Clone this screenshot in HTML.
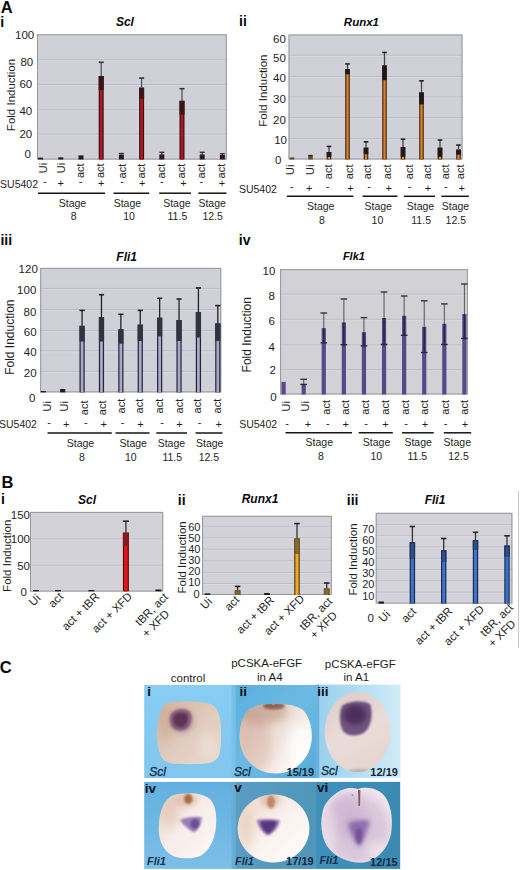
<!DOCTYPE html><html><head><meta charset="utf-8"><style>html,body{margin:0;padding:0;background:#fff;width:520px;height:870px;overflow:hidden;position:relative}</style></head><body><svg width="520" height="870" viewBox="0 0 520 870" style="position:absolute;left:0;top:0" font-family='"Liberation Sans", sans-serif'>
<rect x="0.00" y="0.00" width="520.00" height="870.00" fill="#ffffff"/>
<text x="0.8" y="13.15" font-size="16.5" text-anchor="start" font-weight="bold" font-style="normal" fill="#0a0a0a">A</text>
<text x="0.35" y="26.5" font-size="14" text-anchor="start" font-weight="bold" font-style="normal" fill="#0a0a0a">i</text>
<text x="239.0" y="26.2" font-size="14" text-anchor="start" font-weight="bold" font-style="normal" fill="#0a0a0a">ii</text>
<text x="0.42" y="244.7" font-size="14" text-anchor="start" font-weight="bold" font-style="normal" fill="#0a0a0a">iii</text>
<text x="238.78" y="244.75" font-size="14" text-anchor="start" font-weight="bold" font-style="normal" fill="#0a0a0a">iv</text>
<text x="115.9" y="25.75" font-size="12" text-anchor="start" font-weight="bold" font-style="italic" fill="#0a0a0a">Scl</text>
<rect x="37.00" y="34.30" width="189.80" height="125.30" fill="#cfd0d8"/>
<line x1="37.00" y1="59.80" x2="226.80" y2="59.80" stroke="#b8b9c2" stroke-width="1"/>
<line x1="37.00" y1="60.80" x2="226.80" y2="60.80" stroke="#d9dae1" stroke-width="1"/>
<line x1="37.00" y1="84.50" x2="226.80" y2="84.50" stroke="#b8b9c2" stroke-width="1"/>
<line x1="37.00" y1="85.50" x2="226.80" y2="85.50" stroke="#d9dae1" stroke-width="1"/>
<line x1="37.00" y1="110.00" x2="226.80" y2="110.00" stroke="#b8b9c2" stroke-width="1"/>
<line x1="37.00" y1="111.00" x2="226.80" y2="111.00" stroke="#d9dae1" stroke-width="1"/>
<line x1="37.00" y1="134.20" x2="226.80" y2="134.20" stroke="#b8b9c2" stroke-width="1"/>
<line x1="37.00" y1="135.20" x2="226.80" y2="135.20" stroke="#d9dae1" stroke-width="1"/>
<rect x="37.50" y="34.80" width="188.80" height="124.30" fill="none" stroke="#96969e" stroke-width="1"/>
<text x="34.25" y="39.0" font-size="11.5" text-anchor="end" font-weight="normal" font-style="normal" fill="#1e1e1e">100</text>
<text x="33.2" y="66.25" font-size="11.5" text-anchor="end" font-weight="normal" font-style="normal" fill="#1e1e1e">80</text>
<text x="32.2" y="88.4" font-size="11.5" text-anchor="end" font-weight="normal" font-style="normal" fill="#1e1e1e">60</text>
<text x="32.2" y="114.95" font-size="11.5" text-anchor="end" font-weight="normal" font-style="normal" fill="#1e1e1e">40</text>
<text x="32.2" y="137.7" font-size="11.5" text-anchor="end" font-weight="normal" font-style="normal" fill="#1e1e1e">20</text>
<text x="30.9" y="157.68" font-size="11.5" text-anchor="end" font-weight="normal" font-style="normal" fill="#1e1e1e">0</text>
<text x="0" y="0" transform="translate(14.8,95.0) rotate(-90)" font-size="11.5" text-anchor="middle" font-weight="normal" font-style="normal" fill="#1e1e1e">Fold Induction</text>
<rect x="38.10" y="157.60" width="5.00" height="1.90" fill="#2d1a1c"/>
<rect x="58.30" y="157.30" width="5.00" height="2.20" fill="#2d1a1c"/>
<rect x="78.50" y="155.40" width="5.00" height="4.10" fill="#2d1a1c"/>
<rect x="98.70" y="76.00" width="5.00" height="83.50" fill="#3b1216"/>
<rect x="99.90" y="76.80" width="2.60" height="82.70" fill="#b3171f"/>
<line x1="101.20" y1="62.30" x2="101.20" y2="76.00" stroke="#555" stroke-width="1.3"/>
<line x1="98.70" y1="62.30" x2="103.70" y2="62.30" stroke="#333" stroke-width="1.6"/>
<rect x="98.70" y="76.00" width="5.00" height="14.00" fill="#3a1518"/>
<line x1="118.90" y1="153.50" x2="123.90" y2="153.50" stroke="#333" stroke-width="1.4"/>
<line x1="121.40" y1="153.50" x2="121.40" y2="154.60" stroke="#333" stroke-width="1.2"/>
<rect x="118.90" y="154.60" width="5.00" height="4.90" fill="#2d1a1c"/>
<rect x="139.10" y="87.70" width="5.00" height="71.80" fill="#3b1216"/>
<rect x="140.30" y="88.50" width="2.60" height="71.00" fill="#b3171f"/>
<line x1="141.60" y1="78.10" x2="141.60" y2="87.70" stroke="#555" stroke-width="1.3"/>
<line x1="139.10" y1="78.10" x2="144.10" y2="78.10" stroke="#333" stroke-width="1.6"/>
<rect x="139.10" y="87.70" width="5.00" height="11.10" fill="#3a1518"/>
<line x1="159.30" y1="152.30" x2="164.30" y2="152.30" stroke="#333" stroke-width="1.4"/>
<line x1="161.80" y1="152.30" x2="161.80" y2="154.40" stroke="#333" stroke-width="1.2"/>
<rect x="159.30" y="154.40" width="5.00" height="5.10" fill="#2d1a1c"/>
<rect x="179.50" y="100.80" width="5.00" height="58.70" fill="#3b1216"/>
<rect x="180.70" y="101.60" width="2.60" height="57.90" fill="#b3171f"/>
<line x1="182.00" y1="88.70" x2="182.00" y2="100.80" stroke="#555" stroke-width="1.3"/>
<line x1="179.50" y1="88.70" x2="184.50" y2="88.70" stroke="#333" stroke-width="1.6"/>
<rect x="179.50" y="100.80" width="5.00" height="13.80" fill="#3a1518"/>
<line x1="199.70" y1="152.30" x2="204.70" y2="152.30" stroke="#333" stroke-width="1.4"/>
<line x1="202.20" y1="152.30" x2="202.20" y2="154.40" stroke="#333" stroke-width="1.2"/>
<rect x="199.70" y="154.40" width="5.00" height="5.10" fill="#2d1a1c"/>
<line x1="219.90" y1="153.70" x2="224.90" y2="153.70" stroke="#333" stroke-width="1.4"/>
<line x1="222.40" y1="153.70" x2="222.40" y2="155.00" stroke="#333" stroke-width="1.2"/>
<rect x="219.90" y="155.00" width="5.00" height="4.50" fill="#2d1a1c"/>
<text x="0" y="0" transform="translate(46.9,162.8) rotate(-90)" font-size="11" text-anchor="end" font-weight="normal" font-style="normal" fill="#1e1e1e">Ui</text>
<text x="0" y="0" transform="translate(65.2,162.8) rotate(-90)" font-size="11" text-anchor="end" font-weight="normal" font-style="normal" fill="#1e1e1e">Ui</text>
<text x="0" y="0" transform="translate(84.0,163.4) rotate(-90)" font-size="11" text-anchor="end" font-weight="normal" font-style="normal" fill="#1e1e1e">act</text>
<text x="0" y="0" transform="translate(104.2,163.4) rotate(-90)" font-size="11" text-anchor="end" font-weight="normal" font-style="normal" fill="#1e1e1e">act</text>
<text x="0" y="0" transform="translate(125.8,163.8) rotate(-90)" font-size="11" text-anchor="end" font-weight="normal" font-style="normal" fill="#1e1e1e">act</text>
<text x="0" y="0" transform="translate(145.3,163.8) rotate(-90)" font-size="11" text-anchor="end" font-weight="normal" font-style="normal" fill="#1e1e1e">act</text>
<text x="0" y="0" transform="translate(164.7,163.8) rotate(-90)" font-size="11" text-anchor="end" font-weight="normal" font-style="normal" fill="#1e1e1e">act</text>
<text x="0" y="0" transform="translate(185.0,163.8) rotate(-90)" font-size="11" text-anchor="end" font-weight="normal" font-style="normal" fill="#1e1e1e">act</text>
<text x="0" y="0" transform="translate(204.6,163.8) rotate(-90)" font-size="11" text-anchor="end" font-weight="normal" font-style="normal" fill="#1e1e1e">act</text>
<text x="0" y="0" transform="translate(224.7,163.8) rotate(-90)" font-size="11" text-anchor="end" font-weight="normal" font-style="normal" fill="#1e1e1e">act</text>
<text x="0.1" y="188.2" font-size="10.5" text-anchor="start" font-weight="normal" font-style="normal" fill="#1e1e1e">SU5402</text>
<text x="44.9" y="185.1" font-size="11" text-anchor="middle" font-weight="normal" font-style="normal" fill="#1e1e1e">-</text>
<text x="60.8" y="187.1" font-size="11" text-anchor="middle" font-weight="normal" font-style="normal" fill="#1e1e1e">+</text>
<text x="80.5" y="185.1" font-size="11" text-anchor="middle" font-weight="normal" font-style="normal" fill="#1e1e1e">-</text>
<text x="101.2" y="187.1" font-size="11" text-anchor="middle" font-weight="normal" font-style="normal" fill="#1e1e1e">+</text>
<text x="122.2" y="185.1" font-size="11" text-anchor="middle" font-weight="normal" font-style="normal" fill="#1e1e1e">-</text>
<text x="142.3" y="187.1" font-size="11" text-anchor="middle" font-weight="normal" font-style="normal" fill="#1e1e1e">+</text>
<text x="161.9" y="185.1" font-size="11" text-anchor="middle" font-weight="normal" font-style="normal" fill="#1e1e1e">-</text>
<text x="183.4" y="187.1" font-size="11" text-anchor="middle" font-weight="normal" font-style="normal" fill="#1e1e1e">+</text>
<text x="201.4" y="185.1" font-size="11" text-anchor="middle" font-weight="normal" font-style="normal" fill="#1e1e1e">-</text>
<text x="222.0" y="187.1" font-size="11" text-anchor="middle" font-weight="normal" font-style="normal" fill="#1e1e1e">+</text>
<line x1="38.00" y1="193.20" x2="105.00" y2="193.20" stroke="#151515" stroke-width="1.5"/>
<line x1="113.50" y1="193.20" x2="149.30" y2="193.20" stroke="#151515" stroke-width="1.5"/>
<line x1="159.20" y1="193.20" x2="191.00" y2="193.20" stroke="#151515" stroke-width="1.5"/>
<line x1="198.30" y1="193.20" x2="226.50" y2="193.20" stroke="#151515" stroke-width="1.5"/>
<text x="72.5" y="207.2" font-size="10.5" text-anchor="middle" font-weight="normal" font-style="normal" fill="#1e1e1e">Stage</text>
<text x="127.4" y="207.2" font-size="10.5" text-anchor="middle" font-weight="normal" font-style="normal" fill="#1e1e1e">Stage</text>
<text x="176.9" y="207.2" font-size="10.5" text-anchor="middle" font-weight="normal" font-style="normal" fill="#1e1e1e">Stage</text>
<text x="212.15" y="207.2" font-size="10.5" text-anchor="middle" font-weight="normal" font-style="normal" fill="#1e1e1e">Stage</text>
<text x="73.65" y="220.2" font-size="10.5" text-anchor="middle" font-weight="normal" font-style="normal" fill="#1e1e1e">8</text>
<text x="129.0" y="220.1" font-size="10.5" text-anchor="middle" font-weight="normal" font-style="normal" fill="#1e1e1e">10</text>
<text x="177.4" y="220.2" font-size="10.5" text-anchor="middle" font-weight="normal" font-style="normal" fill="#1e1e1e">11.5</text>
<text x="212.6" y="220.2" font-size="10.5" text-anchor="middle" font-weight="normal" font-style="normal" fill="#1e1e1e">12.5</text>
<text x="343.85" y="25.8" font-size="11.5" text-anchor="start" font-weight="bold" font-style="italic" fill="#0a0a0a">Runx1</text>
<rect x="288.50" y="34.50" width="174.00" height="125.00" fill="#cfd0d8"/>
<line x1="288.50" y1="55.30" x2="462.50" y2="55.30" stroke="#b8b9c2" stroke-width="1"/>
<line x1="288.50" y1="56.30" x2="462.50" y2="56.30" stroke="#d9dae1" stroke-width="1"/>
<line x1="288.50" y1="76.40" x2="462.50" y2="76.40" stroke="#b8b9c2" stroke-width="1"/>
<line x1="288.50" y1="77.40" x2="462.50" y2="77.40" stroke="#d9dae1" stroke-width="1"/>
<line x1="288.50" y1="97.10" x2="462.50" y2="97.10" stroke="#b8b9c2" stroke-width="1"/>
<line x1="288.50" y1="98.10" x2="462.50" y2="98.10" stroke="#d9dae1" stroke-width="1"/>
<line x1="288.50" y1="117.80" x2="462.50" y2="117.80" stroke="#b8b9c2" stroke-width="1"/>
<line x1="288.50" y1="118.80" x2="462.50" y2="118.80" stroke="#d9dae1" stroke-width="1"/>
<line x1="288.50" y1="138.80" x2="462.50" y2="138.80" stroke="#b8b9c2" stroke-width="1"/>
<line x1="288.50" y1="139.80" x2="462.50" y2="139.80" stroke="#d9dae1" stroke-width="1"/>
<rect x="289.00" y="35.00" width="173.00" height="124.00" fill="none" stroke="#96969e" stroke-width="1"/>
<text x="285.9" y="42.8" font-size="11.5" text-anchor="end" font-weight="normal" font-style="normal" fill="#1e1e1e">60</text>
<text x="285.9" y="61.75" font-size="11.5" text-anchor="end" font-weight="normal" font-style="normal" fill="#1e1e1e">50</text>
<text x="285.9" y="81.95" font-size="11.5" text-anchor="end" font-weight="normal" font-style="normal" fill="#1e1e1e">40</text>
<text x="285.9" y="103.45" font-size="11.5" text-anchor="end" font-weight="normal" font-style="normal" fill="#1e1e1e">30</text>
<text x="285.9" y="123.65" font-size="11.5" text-anchor="end" font-weight="normal" font-style="normal" fill="#1e1e1e">20</text>
<text x="287.0" y="144.35" font-size="11.5" text-anchor="end" font-weight="normal" font-style="normal" fill="#1e1e1e">10</text>
<text x="281.5" y="163.9" font-size="11.5" text-anchor="end" font-weight="normal" font-style="normal" fill="#1e1e1e">0</text>
<text x="0" y="0" transform="translate(266.6,90.65) rotate(-90)" font-size="11.5" text-anchor="middle" font-weight="normal" font-style="normal" fill="#1e1e1e">Fold Induction</text>
<rect x="289.70" y="157.40" width="4.60" height="2.10" fill="#6a4a2a"/>
<line x1="308.20" y1="155.60" x2="312.80" y2="155.60" stroke="#222" stroke-width="1.4"/>
<line x1="310.50" y1="155.60" x2="310.50" y2="156.00" stroke="#222" stroke-width="1.2"/>
<rect x="308.20" y="156.00" width="4.60" height="3.50" fill="#6a4a2a"/>
<rect x="326.70" y="152.00" width="4.60" height="7.50" fill="#4a2a10"/>
<rect x="327.90" y="152.80" width="2.20" height="6.70" fill="#d9822b"/>
<line x1="329.00" y1="146.40" x2="329.00" y2="152.00" stroke="#444" stroke-width="1.3"/>
<line x1="326.70" y1="146.40" x2="331.30" y2="146.40" stroke="#222" stroke-width="1.6"/>
<rect x="326.70" y="152.00" width="4.60" height="5.00" fill="#1e1a1a"/>
<rect x="345.20" y="69.10" width="4.60" height="90.40" fill="#4a2a10"/>
<rect x="346.40" y="69.90" width="2.20" height="89.60" fill="#d9822b"/>
<line x1="347.50" y1="63.90" x2="347.50" y2="69.10" stroke="#444" stroke-width="1.3"/>
<line x1="345.20" y1="63.90" x2="349.80" y2="63.90" stroke="#222" stroke-width="1.6"/>
<rect x="345.20" y="69.10" width="4.60" height="5.20" fill="#1e1a1a"/>
<rect x="363.70" y="147.70" width="4.60" height="11.80" fill="#4a2a10"/>
<rect x="364.90" y="148.50" width="2.20" height="11.00" fill="#d9822b"/>
<line x1="366.00" y1="141.80" x2="366.00" y2="147.70" stroke="#444" stroke-width="1.3"/>
<line x1="363.70" y1="141.80" x2="368.30" y2="141.80" stroke="#222" stroke-width="1.6"/>
<rect x="363.70" y="147.70" width="4.60" height="6.50" fill="#1e1a1a"/>
<rect x="382.20" y="65.40" width="4.60" height="94.10" fill="#4a2a10"/>
<rect x="383.40" y="66.20" width="2.20" height="93.30" fill="#d9822b"/>
<line x1="384.50" y1="52.50" x2="384.50" y2="65.40" stroke="#444" stroke-width="1.3"/>
<line x1="382.20" y1="52.50" x2="386.80" y2="52.50" stroke="#222" stroke-width="1.6"/>
<rect x="382.20" y="65.40" width="4.60" height="14.80" fill="#1e1a1a"/>
<rect x="400.70" y="147.00" width="4.60" height="12.50" fill="#4a2a10"/>
<rect x="401.90" y="147.80" width="2.20" height="11.70" fill="#d9822b"/>
<line x1="403.00" y1="139.20" x2="403.00" y2="147.00" stroke="#444" stroke-width="1.3"/>
<line x1="400.70" y1="139.20" x2="405.30" y2="139.20" stroke="#222" stroke-width="1.6"/>
<rect x="400.70" y="147.00" width="4.60" height="9.80" fill="#1e1a1a"/>
<rect x="419.20" y="92.40" width="4.60" height="67.10" fill="#4a2a10"/>
<rect x="420.40" y="93.20" width="2.20" height="66.30" fill="#d9822b"/>
<line x1="421.50" y1="80.80" x2="421.50" y2="92.40" stroke="#444" stroke-width="1.3"/>
<line x1="419.20" y1="80.80" x2="423.80" y2="80.80" stroke="#222" stroke-width="1.6"/>
<rect x="419.20" y="92.40" width="4.60" height="12.00" fill="#1e1a1a"/>
<rect x="437.70" y="147.70" width="4.60" height="11.80" fill="#4a2a10"/>
<rect x="438.90" y="148.50" width="2.20" height="11.00" fill="#d9822b"/>
<line x1="440.00" y1="140.00" x2="440.00" y2="147.70" stroke="#444" stroke-width="1.3"/>
<line x1="437.70" y1="140.00" x2="442.30" y2="140.00" stroke="#222" stroke-width="1.6"/>
<rect x="437.70" y="147.70" width="4.60" height="9.10" fill="#1e1a1a"/>
<rect x="456.20" y="149.60" width="4.60" height="9.90" fill="#4a2a10"/>
<rect x="457.40" y="150.40" width="2.20" height="9.10" fill="#d9822b"/>
<line x1="458.50" y1="145.10" x2="458.50" y2="149.60" stroke="#444" stroke-width="1.3"/>
<line x1="456.20" y1="145.10" x2="460.80" y2="145.10" stroke="#222" stroke-width="1.6"/>
<rect x="456.20" y="149.60" width="4.60" height="5.10" fill="#1e1a1a"/>
<text x="0" y="0" transform="translate(294.3,164.5) rotate(-90)" font-size="11" text-anchor="end" font-weight="normal" font-style="normal" fill="#1e1e1e">Ui</text>
<text x="0" y="0" transform="translate(313.8,164.5) rotate(-90)" font-size="11" text-anchor="end" font-weight="normal" font-style="normal" fill="#1e1e1e">Ui</text>
<text x="0" y="0" transform="translate(331.8,164.5) rotate(-90)" font-size="11" text-anchor="end" font-weight="normal" font-style="normal" fill="#1e1e1e">act</text>
<text x="0" y="0" transform="translate(352.5,164.5) rotate(-90)" font-size="11" text-anchor="end" font-weight="normal" font-style="normal" fill="#1e1e1e">act</text>
<text x="0" y="0" transform="translate(371.3,164.5) rotate(-90)" font-size="11" text-anchor="end" font-weight="normal" font-style="normal" fill="#1e1e1e">act</text>
<text x="0" y="0" transform="translate(391.3,164.5) rotate(-90)" font-size="11" text-anchor="end" font-weight="normal" font-style="normal" fill="#1e1e1e">act</text>
<text x="0" y="0" transform="translate(412.5,164.5) rotate(-90)" font-size="11" text-anchor="end" font-weight="normal" font-style="normal" fill="#1e1e1e">act</text>
<text x="0" y="0" transform="translate(430.5,164.5) rotate(-90)" font-size="11" text-anchor="end" font-weight="normal" font-style="normal" fill="#1e1e1e">act</text>
<text x="0" y="0" transform="translate(448.8,164.5) rotate(-90)" font-size="11" text-anchor="end" font-weight="normal" font-style="normal" fill="#1e1e1e">act</text>
<text x="0" y="0" transform="translate(463.8,164.5) rotate(-90)" font-size="11" text-anchor="end" font-weight="normal" font-style="normal" fill="#1e1e1e">act</text>
<text x="238.9" y="192.5" font-size="10.5" text-anchor="start" font-weight="normal" font-style="normal" fill="#1e1e1e">SU5402</text>
<text x="291.5" y="190.0" font-size="11" text-anchor="middle" font-weight="normal" font-style="normal" fill="#1e1e1e">-</text>
<text x="309.3" y="191.8" font-size="11" text-anchor="middle" font-weight="normal" font-style="normal" fill="#1e1e1e">+</text>
<text x="327.5" y="190.0" font-size="11" text-anchor="middle" font-weight="normal" font-style="normal" fill="#1e1e1e">-</text>
<text x="350.5" y="191.8" font-size="11" text-anchor="middle" font-weight="normal" font-style="normal" fill="#1e1e1e">+</text>
<text x="369.0" y="190.0" font-size="11" text-anchor="middle" font-weight="normal" font-style="normal" fill="#1e1e1e">-</text>
<text x="388.8" y="191.8" font-size="11" text-anchor="middle" font-weight="normal" font-style="normal" fill="#1e1e1e">+</text>
<text x="409.5" y="190.0" font-size="11" text-anchor="middle" font-weight="normal" font-style="normal" fill="#1e1e1e">-</text>
<text x="428.0" y="191.8" font-size="11" text-anchor="middle" font-weight="normal" font-style="normal" fill="#1e1e1e">+</text>
<text x="445.8" y="190.0" font-size="11" text-anchor="middle" font-weight="normal" font-style="normal" fill="#1e1e1e">-</text>
<text x="461.8" y="191.8" font-size="11" text-anchor="middle" font-weight="normal" font-style="normal" fill="#1e1e1e">+</text>
<line x1="286.80" y1="196.30" x2="353.30" y2="196.30" stroke="#151515" stroke-width="1.5"/>
<line x1="362.50" y1="196.30" x2="397.50" y2="196.30" stroke="#151515" stroke-width="1.5"/>
<line x1="403.80" y1="196.30" x2="435.00" y2="196.30" stroke="#151515" stroke-width="1.5"/>
<line x1="441.30" y1="196.30" x2="468.80" y2="196.30" stroke="#151515" stroke-width="1.5"/>
<text x="320.75" y="210.25" font-size="10.5" text-anchor="middle" font-weight="normal" font-style="normal" fill="#1e1e1e">Stage</text>
<text x="378.25" y="210.25" font-size="10.5" text-anchor="middle" font-weight="normal" font-style="normal" fill="#1e1e1e">Stage</text>
<text x="420.5" y="210.25" font-size="10.5" text-anchor="middle" font-weight="normal" font-style="normal" fill="#1e1e1e">Stage</text>
<text x="455.5" y="210.25" font-size="10.5" text-anchor="middle" font-weight="normal" font-style="normal" fill="#1e1e1e">Stage</text>
<text x="321.9" y="223.9" font-size="10.5" text-anchor="middle" font-weight="normal" font-style="normal" fill="#1e1e1e">8</text>
<text x="377.4" y="224.05" font-size="10.5" text-anchor="middle" font-weight="normal" font-style="normal" fill="#1e1e1e">10</text>
<text x="421.15" y="224.05" font-size="10.5" text-anchor="middle" font-weight="normal" font-style="normal" fill="#1e1e1e">11.5</text>
<text x="455.8" y="224.05" font-size="10.5" text-anchor="middle" font-weight="normal" font-style="normal" fill="#1e1e1e">12.5</text>
<text x="116.3" y="260.8" font-size="12" text-anchor="start" font-weight="bold" font-style="italic" fill="#0a0a0a">Fli1</text>
<rect x="40.20" y="267.90" width="181.10" height="124.50" fill="#cfd0d8"/>
<line x1="40.20" y1="288.40" x2="221.30" y2="288.40" stroke="#b8b9c2" stroke-width="1"/>
<line x1="40.20" y1="289.40" x2="221.30" y2="289.40" stroke="#d9dae1" stroke-width="1"/>
<line x1="40.20" y1="309.60" x2="221.30" y2="309.60" stroke="#b8b9c2" stroke-width="1"/>
<line x1="40.20" y1="310.60" x2="221.30" y2="310.60" stroke="#d9dae1" stroke-width="1"/>
<line x1="40.20" y1="330.60" x2="221.30" y2="330.60" stroke="#b8b9c2" stroke-width="1"/>
<line x1="40.20" y1="331.60" x2="221.30" y2="331.60" stroke="#d9dae1" stroke-width="1"/>
<line x1="40.20" y1="350.90" x2="221.30" y2="350.90" stroke="#b8b9c2" stroke-width="1"/>
<line x1="40.20" y1="351.90" x2="221.30" y2="351.90" stroke="#d9dae1" stroke-width="1"/>
<line x1="40.20" y1="371.40" x2="221.30" y2="371.40" stroke="#b8b9c2" stroke-width="1"/>
<line x1="40.20" y1="372.40" x2="221.30" y2="372.40" stroke="#d9dae1" stroke-width="1"/>
<rect x="40.70" y="268.40" width="180.10" height="123.50" fill="none" stroke="#96969e" stroke-width="1"/>
<text x="37.8" y="272.55" font-size="11.5" text-anchor="end" font-weight="normal" font-style="normal" fill="#1e1e1e">120</text>
<text x="36.3" y="293.55" font-size="11.5" text-anchor="end" font-weight="normal" font-style="normal" fill="#1e1e1e">100</text>
<text x="36.3" y="315.5" font-size="11.5" text-anchor="end" font-weight="normal" font-style="normal" fill="#1e1e1e">80</text>
<text x="36.6" y="335.75" font-size="11.5" text-anchor="end" font-weight="normal" font-style="normal" fill="#1e1e1e">60</text>
<text x="36.6" y="356.0" font-size="11.5" text-anchor="end" font-weight="normal" font-style="normal" fill="#1e1e1e">40</text>
<text x="36.6" y="377.4" font-size="11.5" text-anchor="end" font-weight="normal" font-style="normal" fill="#1e1e1e">20</text>
<text x="35.4" y="401.65" font-size="11.5" text-anchor="end" font-weight="normal" font-style="normal" fill="#1e1e1e">0</text>
<text x="0" y="0" transform="translate(14.15,337.15) rotate(-90)" font-size="12" text-anchor="middle" font-weight="normal" font-style="normal" fill="#1e1e1e">Fold Induction</text>
<rect x="40.70" y="391.00" width="5.20" height="1.40" fill="#1e1e2a"/>
<rect x="60.09" y="389.00" width="5.20" height="3.40" fill="#1e1e2a"/>
<rect x="79.48" y="325.80" width="5.20" height="66.60" fill="#23233d"/>
<rect x="80.68" y="326.60" width="2.80" height="65.80" fill="#a9a9c6"/>
<line x1="82.08" y1="310.40" x2="82.08" y2="325.80" stroke="#222" stroke-width="1.3"/>
<line x1="79.48" y1="310.40" x2="84.68" y2="310.40" stroke="#222" stroke-width="1.6"/>
<rect x="79.48" y="325.80" width="5.20" height="15.70" fill="#33333f"/>
<rect x="98.87" y="317.00" width="5.20" height="75.40" fill="#23233d"/>
<rect x="100.07" y="317.80" width="2.80" height="74.60" fill="#a9a9c6"/>
<line x1="101.47" y1="294.70" x2="101.47" y2="317.00" stroke="#222" stroke-width="1.3"/>
<line x1="98.87" y1="294.70" x2="104.07" y2="294.70" stroke="#222" stroke-width="1.6"/>
<rect x="98.87" y="317.00" width="5.20" height="24.50" fill="#33333f"/>
<rect x="118.26" y="329.30" width="5.20" height="63.10" fill="#23233d"/>
<rect x="119.46" y="330.10" width="2.80" height="62.30" fill="#a9a9c6"/>
<line x1="120.86" y1="314.30" x2="120.86" y2="329.30" stroke="#222" stroke-width="1.3"/>
<line x1="118.26" y1="314.30" x2="123.46" y2="314.30" stroke="#222" stroke-width="1.6"/>
<rect x="118.26" y="329.30" width="5.20" height="14.40" fill="#33333f"/>
<rect x="137.65" y="324.60" width="5.20" height="67.80" fill="#23233d"/>
<rect x="138.85" y="325.40" width="2.80" height="67.00" fill="#a9a9c6"/>
<line x1="140.25" y1="310.40" x2="140.25" y2="324.60" stroke="#222" stroke-width="1.3"/>
<line x1="137.65" y1="310.40" x2="142.85" y2="310.40" stroke="#222" stroke-width="1.6"/>
<rect x="137.65" y="324.60" width="5.20" height="16.40" fill="#33333f"/>
<rect x="157.04" y="317.70" width="5.20" height="74.70" fill="#23233d"/>
<rect x="158.24" y="318.50" width="2.80" height="73.90" fill="#a9a9c6"/>
<line x1="159.64" y1="298.30" x2="159.64" y2="317.70" stroke="#222" stroke-width="1.3"/>
<line x1="157.04" y1="298.30" x2="162.24" y2="298.30" stroke="#222" stroke-width="1.6"/>
<rect x="157.04" y="317.70" width="5.20" height="18.60" fill="#33333f"/>
<rect x="176.43" y="320.00" width="5.20" height="72.40" fill="#23233d"/>
<rect x="177.63" y="320.80" width="2.80" height="71.60" fill="#a9a9c6"/>
<line x1="179.03" y1="299.00" x2="179.03" y2="320.00" stroke="#222" stroke-width="1.3"/>
<line x1="176.43" y1="299.00" x2="181.63" y2="299.00" stroke="#222" stroke-width="1.6"/>
<rect x="176.43" y="320.00" width="5.20" height="21.00" fill="#33333f"/>
<rect x="195.82" y="312.00" width="5.20" height="80.40" fill="#23233d"/>
<rect x="197.02" y="312.80" width="2.80" height="79.60" fill="#a9a9c6"/>
<line x1="198.42" y1="287.90" x2="198.42" y2="312.00" stroke="#222" stroke-width="1.3"/>
<line x1="195.82" y1="287.90" x2="201.02" y2="287.90" stroke="#222" stroke-width="1.6"/>
<rect x="195.82" y="312.00" width="5.20" height="25.50" fill="#33333f"/>
<rect x="215.21" y="323.40" width="5.20" height="69.00" fill="#23233d"/>
<rect x="216.41" y="324.20" width="2.80" height="68.20" fill="#a9a9c6"/>
<line x1="217.81" y1="305.60" x2="217.81" y2="323.40" stroke="#222" stroke-width="1.3"/>
<line x1="215.21" y1="305.60" x2="220.41" y2="305.60" stroke="#222" stroke-width="1.6"/>
<rect x="215.21" y="323.40" width="5.20" height="17.60" fill="#33333f"/>
<text x="0" y="0" transform="translate(51.3,401.0) rotate(-90)" font-size="11" text-anchor="end" font-weight="normal" font-style="normal" fill="#1e1e1e">Ui</text>
<text x="0" y="0" transform="translate(67.5,401.0) rotate(-90)" font-size="11" text-anchor="end" font-weight="normal" font-style="normal" fill="#1e1e1e">Ui</text>
<text x="0" y="0" transform="translate(87.5,400.5) rotate(-90)" font-size="11" text-anchor="end" font-weight="normal" font-style="normal" fill="#1e1e1e">act</text>
<text x="0" y="0" transform="translate(106.0,400.5) rotate(-90)" font-size="11" text-anchor="end" font-weight="normal" font-style="normal" fill="#1e1e1e">act</text>
<text x="0" y="0" transform="translate(124.5,398.8) rotate(-90)" font-size="11" text-anchor="end" font-weight="normal" font-style="normal" fill="#1e1e1e">act</text>
<text x="0" y="0" transform="translate(143.0,398.8) rotate(-90)" font-size="11" text-anchor="end" font-weight="normal" font-style="normal" fill="#1e1e1e">act</text>
<text x="0" y="0" transform="translate(163.0,398.8) rotate(-90)" font-size="11" text-anchor="end" font-weight="normal" font-style="normal" fill="#1e1e1e">act</text>
<text x="0" y="0" transform="translate(182.5,398.8) rotate(-90)" font-size="11" text-anchor="end" font-weight="normal" font-style="normal" fill="#1e1e1e">act</text>
<text x="0" y="0" transform="translate(201.3,398.8) rotate(-90)" font-size="11" text-anchor="end" font-weight="normal" font-style="normal" fill="#1e1e1e">act</text>
<text x="0" y="0" transform="translate(221.3,398.8) rotate(-90)" font-size="11" text-anchor="end" font-weight="normal" font-style="normal" fill="#1e1e1e">act</text>
<text x="-1.0" y="428.0" font-size="10.5" text-anchor="start" font-weight="normal" font-style="normal" fill="#1e1e1e">SU5402</text>
<text x="49.0" y="426.3" font-size="11" text-anchor="middle" font-weight="normal" font-style="normal" fill="#1e1e1e">-</text>
<text x="66.3" y="428.0" font-size="11" text-anchor="middle" font-weight="normal" font-style="normal" fill="#1e1e1e">+</text>
<text x="85.8" y="426.3" font-size="11" text-anchor="middle" font-weight="normal" font-style="normal" fill="#1e1e1e">-</text>
<text x="103.8" y="428.0" font-size="11" text-anchor="middle" font-weight="normal" font-style="normal" fill="#1e1e1e">+</text>
<text x="122.5" y="426.3" font-size="11" text-anchor="middle" font-weight="normal" font-style="normal" fill="#1e1e1e">-</text>
<text x="140.5" y="428.0" font-size="11" text-anchor="middle" font-weight="normal" font-style="normal" fill="#1e1e1e">+</text>
<text x="162.0" y="426.3" font-size="11" text-anchor="middle" font-weight="normal" font-style="normal" fill="#1e1e1e">-</text>
<text x="179.5" y="428.0" font-size="11" text-anchor="middle" font-weight="normal" font-style="normal" fill="#1e1e1e">+</text>
<text x="199.5" y="426.3" font-size="11" text-anchor="middle" font-weight="normal" font-style="normal" fill="#1e1e1e">-</text>
<text x="218.8" y="428.0" font-size="11" text-anchor="middle" font-weight="normal" font-style="normal" fill="#1e1e1e">+</text>
<line x1="47.50" y1="433.00" x2="111.80" y2="433.00" stroke="#151515" stroke-width="1.5"/>
<line x1="115.50" y1="433.00" x2="149.50" y2="433.00" stroke="#151515" stroke-width="1.5"/>
<line x1="156.30" y1="433.00" x2="187.00" y2="433.00" stroke="#151515" stroke-width="1.5"/>
<line x1="195.50" y1="433.00" x2="222.50" y2="433.00" stroke="#151515" stroke-width="1.5"/>
<text x="80.5" y="446.9" font-size="10.5" text-anchor="middle" font-weight="normal" font-style="normal" fill="#1e1e1e">Stage</text>
<text x="133.25" y="447.15" font-size="10.5" text-anchor="middle" font-weight="normal" font-style="normal" fill="#1e1e1e">Stage</text>
<text x="171.4" y="447.15" font-size="10.5" text-anchor="middle" font-weight="normal" font-style="normal" fill="#1e1e1e">Stage</text>
<text x="209.75" y="447.15" font-size="10.5" text-anchor="middle" font-weight="normal" font-style="normal" fill="#1e1e1e">Stage</text>
<text x="81.9" y="460.5" font-size="10.5" text-anchor="middle" font-weight="normal" font-style="normal" fill="#1e1e1e">8</text>
<text x="130.75" y="461.15" font-size="10.5" text-anchor="middle" font-weight="normal" font-style="normal" fill="#1e1e1e">10</text>
<text x="172.25" y="461.15" font-size="10.5" text-anchor="middle" font-weight="normal" font-style="normal" fill="#1e1e1e">11.5</text>
<text x="208.9" y="461.15" font-size="10.5" text-anchor="middle" font-weight="normal" font-style="normal" fill="#1e1e1e">12.5</text>
<text x="342.9" y="260.0" font-size="11" text-anchor="start" font-weight="bold" font-style="italic" fill="#0a0a0a">Flk1</text>
<rect x="280.10" y="269.10" width="187.80" height="125.40" fill="#d1d1d6"/>
<line x1="280.10" y1="294.10" x2="467.90" y2="294.10" stroke="#b8b8be" stroke-width="1"/>
<line x1="280.10" y1="295.10" x2="467.90" y2="295.10" stroke="#d9dae1" stroke-width="1"/>
<line x1="280.10" y1="319.30" x2="467.90" y2="319.30" stroke="#b8b8be" stroke-width="1"/>
<line x1="280.10" y1="320.30" x2="467.90" y2="320.30" stroke="#d9dae1" stroke-width="1"/>
<line x1="280.10" y1="345.00" x2="467.90" y2="345.00" stroke="#b8b8be" stroke-width="1"/>
<line x1="280.10" y1="346.00" x2="467.90" y2="346.00" stroke="#d9dae1" stroke-width="1"/>
<line x1="280.10" y1="369.80" x2="467.90" y2="369.80" stroke="#b8b8be" stroke-width="1"/>
<line x1="280.10" y1="370.80" x2="467.90" y2="370.80" stroke="#d9dae1" stroke-width="1"/>
<rect x="280.60" y="269.60" width="186.80" height="124.40" fill="none" stroke="#96969e" stroke-width="1"/>
<text x="275.3" y="274.65" font-size="11.5" text-anchor="end" font-weight="normal" font-style="normal" fill="#1e1e1e">10</text>
<text x="275.0" y="300.4" font-size="11.5" text-anchor="end" font-weight="normal" font-style="normal" fill="#1e1e1e">8</text>
<text x="275.0" y="325.3" font-size="11.5" text-anchor="end" font-weight="normal" font-style="normal" fill="#1e1e1e">6</text>
<text x="275.0" y="350.8" font-size="11.5" text-anchor="end" font-weight="normal" font-style="normal" fill="#1e1e1e">4</text>
<text x="276.0" y="373.9" font-size="11.5" text-anchor="end" font-weight="normal" font-style="normal" fill="#1e1e1e">2</text>
<text x="276.6" y="400.75" font-size="11.5" text-anchor="end" font-weight="normal" font-style="normal" fill="#1e1e1e">0</text>
<text x="0" y="0" transform="translate(250.75,334.75) rotate(-90)" font-size="12" text-anchor="middle" font-weight="normal" font-style="normal" fill="#1e1e1e">Fold Induction</text>
<rect x="281.50" y="381.90" width="4.20" height="12.60" fill="#56498a"/>
<rect x="301.59" y="384.40" width="4.20" height="10.10" fill="#56498a"/>
<line x1="303.69" y1="379.30" x2="303.69" y2="384.40" stroke="#555" stroke-width="1.0"/>
<line x1="300.39" y1="379.30" x2="306.99" y2="379.30" stroke="#333" stroke-width="1.4"/>
<line x1="303.69" y1="384.40" x2="303.69" y2="384.40" stroke="#2a2440" stroke-width="1.6"/>
<line x1="300.39" y1="384.40" x2="306.99" y2="384.40" stroke="#2a2440" stroke-width="1.4"/>
<rect x="321.68" y="328.10" width="4.20" height="66.40" fill="#56498a"/>
<line x1="323.78" y1="313.00" x2="323.78" y2="328.10" stroke="#555" stroke-width="1.0"/>
<line x1="320.48" y1="313.00" x2="327.08" y2="313.00" stroke="#333" stroke-width="1.4"/>
<line x1="323.78" y1="328.10" x2="323.78" y2="342.80" stroke="#2a2440" stroke-width="1.6"/>
<line x1="320.48" y1="342.80" x2="327.08" y2="342.80" stroke="#2a2440" stroke-width="1.4"/>
<rect x="341.77" y="322.40" width="4.20" height="72.10" fill="#56498a"/>
<line x1="343.87" y1="299.00" x2="343.87" y2="322.40" stroke="#555" stroke-width="1.0"/>
<line x1="340.57" y1="299.00" x2="347.17" y2="299.00" stroke="#333" stroke-width="1.4"/>
<line x1="343.87" y1="322.40" x2="343.87" y2="344.70" stroke="#2a2440" stroke-width="1.6"/>
<line x1="340.57" y1="344.70" x2="347.17" y2="344.70" stroke="#2a2440" stroke-width="1.4"/>
<rect x="361.86" y="332.20" width="4.20" height="62.30" fill="#56498a"/>
<line x1="363.96" y1="317.60" x2="363.96" y2="332.20" stroke="#555" stroke-width="1.0"/>
<line x1="360.66" y1="317.60" x2="367.26" y2="317.60" stroke="#333" stroke-width="1.4"/>
<line x1="363.96" y1="332.20" x2="363.96" y2="345.90" stroke="#2a2440" stroke-width="1.6"/>
<line x1="360.66" y1="345.90" x2="367.26" y2="345.90" stroke="#2a2440" stroke-width="1.4"/>
<rect x="381.95" y="318.00" width="4.20" height="76.50" fill="#56498a"/>
<line x1="384.05" y1="292.00" x2="384.05" y2="318.00" stroke="#555" stroke-width="1.0"/>
<line x1="380.75" y1="292.00" x2="387.35" y2="292.00" stroke="#333" stroke-width="1.4"/>
<line x1="384.05" y1="318.00" x2="384.05" y2="344.50" stroke="#2a2440" stroke-width="1.6"/>
<line x1="380.75" y1="344.50" x2="387.35" y2="344.50" stroke="#2a2440" stroke-width="1.4"/>
<rect x="402.04" y="315.80" width="4.20" height="78.70" fill="#56498a"/>
<line x1="404.14" y1="296.00" x2="404.14" y2="315.80" stroke="#555" stroke-width="1.0"/>
<line x1="400.84" y1="296.00" x2="407.44" y2="296.00" stroke="#333" stroke-width="1.4"/>
<line x1="404.14" y1="315.80" x2="404.14" y2="335.30" stroke="#2a2440" stroke-width="1.6"/>
<line x1="400.84" y1="335.30" x2="407.44" y2="335.30" stroke="#2a2440" stroke-width="1.4"/>
<rect x="422.13" y="326.90" width="4.20" height="67.60" fill="#56498a"/>
<line x1="424.23" y1="300.80" x2="424.23" y2="326.90" stroke="#555" stroke-width="1.0"/>
<line x1="420.93" y1="300.80" x2="427.53" y2="300.80" stroke="#333" stroke-width="1.4"/>
<line x1="424.23" y1="326.90" x2="424.23" y2="352.50" stroke="#2a2440" stroke-width="1.6"/>
<line x1="420.93" y1="352.50" x2="427.53" y2="352.50" stroke="#2a2440" stroke-width="1.4"/>
<rect x="442.22" y="323.80" width="4.20" height="70.70" fill="#56498a"/>
<line x1="444.32" y1="303.90" x2="444.32" y2="323.80" stroke="#555" stroke-width="1.0"/>
<line x1="441.02" y1="303.90" x2="447.62" y2="303.90" stroke="#333" stroke-width="1.4"/>
<line x1="444.32" y1="323.80" x2="444.32" y2="344.50" stroke="#2a2440" stroke-width="1.6"/>
<line x1="441.02" y1="344.50" x2="447.62" y2="344.50" stroke="#2a2440" stroke-width="1.4"/>
<rect x="462.31" y="314.00" width="4.20" height="80.50" fill="#56498a"/>
<line x1="464.41" y1="284.00" x2="464.41" y2="314.00" stroke="#555" stroke-width="1.0"/>
<line x1="461.11" y1="284.00" x2="467.71" y2="284.00" stroke="#333" stroke-width="1.4"/>
<line x1="464.41" y1="314.00" x2="464.41" y2="338.40" stroke="#2a2440" stroke-width="1.6"/>
<line x1="461.11" y1="338.40" x2="467.71" y2="338.40" stroke="#2a2440" stroke-width="1.4"/>
<text x="0" y="0" transform="translate(290.0,401.0) rotate(-90)" font-size="11" text-anchor="end" font-weight="normal" font-style="normal" fill="#1e1e1e">Ui</text>
<text x="0" y="0" transform="translate(308.8,401.0) rotate(-90)" font-size="11" text-anchor="end" font-weight="normal" font-style="normal" fill="#1e1e1e">Ui</text>
<text x="0" y="0" transform="translate(330.0,400.0) rotate(-90)" font-size="11" text-anchor="end" font-weight="normal" font-style="normal" fill="#1e1e1e">act</text>
<text x="0" y="0" transform="translate(348.8,400.0) rotate(-90)" font-size="11" text-anchor="end" font-weight="normal" font-style="normal" fill="#1e1e1e">act</text>
<text x="0" y="0" transform="translate(369.4,400.0) rotate(-90)" font-size="11" text-anchor="end" font-weight="normal" font-style="normal" fill="#1e1e1e">act</text>
<text x="0" y="0" transform="translate(389.0,400.0) rotate(-90)" font-size="11" text-anchor="end" font-weight="normal" font-style="normal" fill="#1e1e1e">act</text>
<text x="0" y="0" transform="translate(409.2,400.0) rotate(-90)" font-size="11" text-anchor="end" font-weight="normal" font-style="normal" fill="#1e1e1e">act</text>
<text x="0" y="0" transform="translate(428.0,400.0) rotate(-90)" font-size="11" text-anchor="end" font-weight="normal" font-style="normal" fill="#1e1e1e">act</text>
<text x="0" y="0" transform="translate(449.0,400.0) rotate(-90)" font-size="11" text-anchor="end" font-weight="normal" font-style="normal" fill="#1e1e1e">act</text>
<text x="0" y="0" transform="translate(468.4,400.0) rotate(-90)" font-size="11" text-anchor="end" font-weight="normal" font-style="normal" fill="#1e1e1e">act</text>
<text x="239.15" y="428.0" font-size="10.5" text-anchor="start" font-weight="normal" font-style="normal" fill="#1e1e1e">SU5402</text>
<text x="287.0" y="426.7" font-size="11" text-anchor="middle" font-weight="normal" font-style="normal" fill="#1e1e1e">-</text>
<text x="308.0" y="428.3" font-size="11" text-anchor="middle" font-weight="normal" font-style="normal" fill="#1e1e1e">+</text>
<text x="327.8" y="426.7" font-size="11" text-anchor="middle" font-weight="normal" font-style="normal" fill="#1e1e1e">-</text>
<text x="345.8" y="428.3" font-size="11" text-anchor="middle" font-weight="normal" font-style="normal" fill="#1e1e1e">+</text>
<text x="366.0" y="426.7" font-size="11" text-anchor="middle" font-weight="normal" font-style="normal" fill="#1e1e1e">-</text>
<text x="385.5" y="428.3" font-size="11" text-anchor="middle" font-weight="normal" font-style="normal" fill="#1e1e1e">+</text>
<text x="406.0" y="426.7" font-size="11" text-anchor="middle" font-weight="normal" font-style="normal" fill="#1e1e1e">-</text>
<text x="425.0" y="428.3" font-size="11" text-anchor="middle" font-weight="normal" font-style="normal" fill="#1e1e1e">+</text>
<text x="445.5" y="426.7" font-size="11" text-anchor="middle" font-weight="normal" font-style="normal" fill="#1e1e1e">-</text>
<text x="465.0" y="428.3" font-size="11" text-anchor="middle" font-weight="normal" font-style="normal" fill="#1e1e1e">+</text>
<line x1="285.50" y1="432.80" x2="352.00" y2="432.80" stroke="#151515" stroke-width="1.5"/>
<line x1="358.70" y1="432.80" x2="392.80" y2="432.80" stroke="#151515" stroke-width="1.5"/>
<line x1="402.00" y1="432.80" x2="433.70" y2="432.80" stroke="#151515" stroke-width="1.5"/>
<line x1="443.80" y1="432.80" x2="471.20" y2="432.80" stroke="#151515" stroke-width="1.5"/>
<text x="319.3" y="446.15" font-size="10.5" text-anchor="middle" font-weight="normal" font-style="normal" fill="#1e1e1e">Stage</text>
<text x="376.55" y="446.15" font-size="10.5" text-anchor="middle" font-weight="normal" font-style="normal" fill="#1e1e1e">Stage</text>
<text x="418.15" y="446.15" font-size="10.5" text-anchor="middle" font-weight="normal" font-style="normal" fill="#1e1e1e">Stage</text>
<text x="457.3" y="446.15" font-size="10.5" text-anchor="middle" font-weight="normal" font-style="normal" fill="#1e1e1e">Stage</text>
<text x="320.9" y="460.0" font-size="10.5" text-anchor="middle" font-weight="normal" font-style="normal" fill="#1e1e1e">8</text>
<text x="376.25" y="460.3" font-size="10.5" text-anchor="middle" font-weight="normal" font-style="normal" fill="#1e1e1e">10</text>
<text x="417.35" y="460.3" font-size="10.5" text-anchor="middle" font-weight="normal" font-style="normal" fill="#1e1e1e">11.5</text>
<text x="458.5" y="460.3" font-size="10.5" text-anchor="middle" font-weight="normal" font-style="normal" fill="#1e1e1e">12.5</text>
<text x="1.6" y="487.85" font-size="16.5" text-anchor="start" font-weight="bold" font-style="normal" fill="#0a0a0a">B</text>
<text x="1.1" y="504.05" font-size="14" text-anchor="start" font-weight="bold" font-style="normal" fill="#0a0a0a">i</text>
<text x="177.75" y="504.95" font-size="14" text-anchor="start" font-weight="bold" font-style="normal" fill="#0a0a0a">ii</text>
<text x="346.75" y="504.55" font-size="14" text-anchor="start" font-weight="bold" font-style="normal" fill="#0a0a0a">iii</text>
<text x="78.0" y="503.6" font-size="12" text-anchor="start" font-weight="bold" font-style="italic" fill="#0a0a0a">Scl</text>
<rect x="30.00" y="511.90" width="133.20" height="79.70" fill="#d2d2d8"/>
<line x1="30.00" y1="539.00" x2="163.20" y2="539.00" stroke="#bcbcc4" stroke-width="1"/>
<line x1="30.00" y1="540.00" x2="163.20" y2="540.00" stroke="#d9dae1" stroke-width="1"/>
<line x1="30.00" y1="565.30" x2="163.20" y2="565.30" stroke="#bcbcc4" stroke-width="1"/>
<line x1="30.00" y1="566.30" x2="163.20" y2="566.30" stroke="#d9dae1" stroke-width="1"/>
<rect x="30.50" y="512.40" width="132.20" height="78.70" fill="none" stroke="#96969e" stroke-width="1"/>
<text x="30.0" y="518.85" font-size="11.5" text-anchor="end" font-weight="normal" font-style="normal" fill="#1e1e1e">150</text>
<text x="30.0" y="543.3" font-size="11.5" text-anchor="end" font-weight="normal" font-style="normal" fill="#1e1e1e">100</text>
<text x="30.0" y="569.65" font-size="11.5" text-anchor="end" font-weight="normal" font-style="normal" fill="#1e1e1e">50</text>
<text x="26.8" y="596.3" font-size="11.5" text-anchor="end" font-weight="normal" font-style="normal" fill="#1e1e1e">0</text>
<text x="0" y="0" transform="translate(10.8,555.75) rotate(-90)" font-size="11.5" text-anchor="middle" font-weight="normal" font-style="normal" fill="#1e1e1e">Fold Induction</text>
<rect x="33.00" y="590.00" width="6.00" height="1.30" fill="#2a1a1a"/>
<rect x="55.00" y="590.00" width="6.00" height="1.30" fill="#2a1a1a"/>
<rect x="88.40" y="590.00" width="6.00" height="1.30" fill="#2a1a1a"/>
<rect x="122.90" y="532.60" width="6.00" height="58.70" fill="#5a0c0e"/>
<rect x="124.10" y="533.40" width="3.60" height="57.90" fill="#e3151c"/>
<line x1="125.90" y1="521.20" x2="125.90" y2="532.60" stroke="#333" stroke-width="1.3"/>
<line x1="122.90" y1="521.20" x2="128.90" y2="521.20" stroke="#222" stroke-width="1.6"/>
<rect x="122.90" y="532.60" width="6.00" height="13.10" fill="#861a1c"/>
<rect x="155.40" y="589.50" width="6.00" height="1.80" fill="#2a1a1a"/>
<text x="241.7" y="502.6" font-size="12" text-anchor="start" font-weight="bold" font-style="italic" fill="#0a0a0a">Runx1</text>
<rect x="202.10" y="515.80" width="129.70" height="79.20" fill="#d2d2d8"/>
<line x1="202.10" y1="526.90" x2="331.80" y2="526.90" stroke="#bcbcc4" stroke-width="1"/>
<line x1="202.10" y1="527.90" x2="331.80" y2="527.90" stroke="#d9dae1" stroke-width="1"/>
<line x1="202.10" y1="537.80" x2="331.80" y2="537.80" stroke="#bcbcc4" stroke-width="1"/>
<line x1="202.10" y1="538.80" x2="331.80" y2="538.80" stroke="#d9dae1" stroke-width="1"/>
<line x1="202.10" y1="549.30" x2="331.80" y2="549.30" stroke="#bcbcc4" stroke-width="1"/>
<line x1="202.10" y1="550.30" x2="331.80" y2="550.30" stroke="#d9dae1" stroke-width="1"/>
<line x1="202.10" y1="560.90" x2="331.80" y2="560.90" stroke="#bcbcc4" stroke-width="1"/>
<line x1="202.10" y1="561.90" x2="331.80" y2="561.90" stroke="#d9dae1" stroke-width="1"/>
<line x1="202.10" y1="572.40" x2="331.80" y2="572.40" stroke="#bcbcc4" stroke-width="1"/>
<line x1="202.10" y1="573.40" x2="331.80" y2="573.40" stroke="#d9dae1" stroke-width="1"/>
<line x1="202.10" y1="583.50" x2="331.80" y2="583.50" stroke="#bcbcc4" stroke-width="1"/>
<line x1="202.10" y1="584.50" x2="331.80" y2="584.50" stroke="#d9dae1" stroke-width="1"/>
<rect x="202.60" y="516.30" width="128.70" height="78.20" fill="none" stroke="#96969e" stroke-width="1"/>
<text x="200.4" y="530.9" font-size="11" text-anchor="end" font-weight="normal" font-style="normal" fill="#1e1e1e">60</text>
<text x="200.4" y="542.05" font-size="11" text-anchor="end" font-weight="normal" font-style="normal" fill="#1e1e1e">50</text>
<text x="200.4" y="552.95" font-size="11" text-anchor="end" font-weight="normal" font-style="normal" fill="#1e1e1e">40</text>
<text x="200.4" y="564.45" font-size="11" text-anchor="end" font-weight="normal" font-style="normal" fill="#1e1e1e">30</text>
<text x="200.4" y="575.4" font-size="11" text-anchor="end" font-weight="normal" font-style="normal" fill="#1e1e1e">20</text>
<text x="200.4" y="586.35" font-size="11" text-anchor="end" font-weight="normal" font-style="normal" fill="#1e1e1e">10</text>
<text x="199.5" y="598.35" font-size="11" text-anchor="end" font-weight="normal" font-style="normal" fill="#1e1e1e">0</text>
<text x="0" y="0" transform="translate(186.05,557.4) rotate(-90)" font-size="11.5" text-anchor="middle" font-weight="normal" font-style="normal" fill="#1e1e1e">Fold Induction</text>
<rect x="204.70" y="593.40" width="5.60" height="1.60" fill="#221a12"/>
<rect x="234.80" y="590.30" width="5.60" height="4.70" fill="#5a4010"/>
<rect x="236.00" y="591.30" width="3.20" height="3.70" fill="#f3a526"/>
<line x1="237.60" y1="586.40" x2="237.60" y2="590.30" stroke="#333" stroke-width="1.3"/>
<line x1="234.80" y1="586.40" x2="240.40" y2="586.40" stroke="#222" stroke-width="1.6"/>
<rect x="234.80" y="590.30" width="5.60" height="4.70" fill="#6e5a2c"/>
<rect x="236.10" y="591.50" width="3.00" height="3.50" fill="#8a6a2a"/>
<rect x="264.20" y="593.00" width="5.60" height="2.00" fill="#221a12"/>
<rect x="294.20" y="538.40" width="5.60" height="56.60" fill="#5a4010"/>
<rect x="295.40" y="539.40" width="3.20" height="55.60" fill="#f3a526"/>
<line x1="297.00" y1="523.60" x2="297.00" y2="538.40" stroke="#333" stroke-width="1.3"/>
<line x1="294.20" y1="523.60" x2="299.80" y2="523.60" stroke="#222" stroke-width="1.6"/>
<rect x="294.20" y="538.40" width="5.60" height="15.60" fill="#6e5a2c"/>
<rect x="295.50" y="539.60" width="3.00" height="14.40" fill="#8a6a2a"/>
<rect x="323.90" y="588.50" width="5.60" height="6.50" fill="#5a4010"/>
<rect x="325.10" y="589.50" width="3.20" height="5.50" fill="#f3a526"/>
<line x1="326.70" y1="583.00" x2="326.70" y2="588.50" stroke="#333" stroke-width="1.3"/>
<line x1="323.90" y1="583.00" x2="329.50" y2="583.00" stroke="#222" stroke-width="1.6"/>
<rect x="323.90" y="588.50" width="5.60" height="6.50" fill="#6e5a2c"/>
<rect x="325.20" y="589.70" width="3.00" height="5.30" fill="#8a6a2a"/>
<text x="424.65" y="504.3" font-size="12" text-anchor="start" font-weight="bold" font-style="italic" fill="#0a0a0a">Fli1</text>
<rect x="375.70" y="512.80" width="136.70" height="90.80" fill="#d3d3d9"/>
<line x1="375.70" y1="524.60" x2="512.40" y2="524.60" stroke="#bdbdc5" stroke-width="1"/>
<line x1="375.70" y1="525.60" x2="512.40" y2="525.60" stroke="#d9dae1" stroke-width="1"/>
<line x1="375.70" y1="535.80" x2="512.40" y2="535.80" stroke="#bdbdc5" stroke-width="1"/>
<line x1="375.70" y1="536.80" x2="512.40" y2="536.80" stroke="#d9dae1" stroke-width="1"/>
<line x1="375.70" y1="547.00" x2="512.40" y2="547.00" stroke="#bdbdc5" stroke-width="1"/>
<line x1="375.70" y1="548.00" x2="512.40" y2="548.00" stroke="#d9dae1" stroke-width="1"/>
<line x1="375.70" y1="558.30" x2="512.40" y2="558.30" stroke="#bdbdc5" stroke-width="1"/>
<line x1="375.70" y1="559.30" x2="512.40" y2="559.30" stroke="#d9dae1" stroke-width="1"/>
<line x1="375.70" y1="569.60" x2="512.40" y2="569.60" stroke="#bdbdc5" stroke-width="1"/>
<line x1="375.70" y1="570.60" x2="512.40" y2="570.60" stroke="#d9dae1" stroke-width="1"/>
<line x1="375.70" y1="580.90" x2="512.40" y2="580.90" stroke="#bdbdc5" stroke-width="1"/>
<line x1="375.70" y1="581.90" x2="512.40" y2="581.90" stroke="#d9dae1" stroke-width="1"/>
<line x1="375.70" y1="592.20" x2="512.40" y2="592.20" stroke="#bdbdc5" stroke-width="1"/>
<line x1="375.70" y1="593.20" x2="512.40" y2="593.20" stroke="#d9dae1" stroke-width="1"/>
<rect x="376.20" y="513.30" width="135.70" height="89.80" fill="none" stroke="#96969e" stroke-width="1"/>
<text x="374.5" y="532.7" font-size="11" text-anchor="end" font-weight="normal" font-style="normal" fill="#1e1e1e">70</text>
<text x="374.5" y="544.2" font-size="11" text-anchor="end" font-weight="normal" font-style="normal" fill="#1e1e1e">60</text>
<text x="374.5" y="555.35" font-size="11" text-anchor="end" font-weight="normal" font-style="normal" fill="#1e1e1e">50</text>
<text x="374.5" y="566.15" font-size="11" text-anchor="end" font-weight="normal" font-style="normal" fill="#1e1e1e">40</text>
<text x="374.5" y="577.3" font-size="11" text-anchor="end" font-weight="normal" font-style="normal" fill="#1e1e1e">30</text>
<text x="374.5" y="588.1" font-size="11" text-anchor="end" font-weight="normal" font-style="normal" fill="#1e1e1e">20</text>
<text x="374.5" y="599.6" font-size="11" text-anchor="end" font-weight="normal" font-style="normal" fill="#1e1e1e">10</text>
<text x="373.8" y="622.25" font-size="11.5" text-anchor="end" font-weight="normal" font-style="normal" fill="#1e1e1e">0</text>
<text x="0" y="0" transform="translate(356.55,559.45) rotate(-90)" font-size="11.5" text-anchor="middle" font-weight="normal" font-style="normal" fill="#1e1e1e">Fold Induction</text>
<rect x="378.50" y="601.50" width="5.40" height="2.10" fill="#1a1a22"/>
<rect x="409.70" y="542.20" width="5.40" height="61.40" fill="#1b2d55"/>
<rect x="410.90" y="543.20" width="3.00" height="60.40" fill="#3d74c6"/>
<line x1="412.40" y1="526.50" x2="412.40" y2="542.20" stroke="#333" stroke-width="1.3"/>
<line x1="409.70" y1="526.50" x2="415.10" y2="526.50" stroke="#222" stroke-width="1.6"/>
<rect x="409.70" y="542.20" width="5.40" height="16.50" fill="#1e3158"/>
<rect x="411.00" y="543.40" width="2.80" height="15.30" fill="#2d538f"/>
<rect x="441.00" y="550.30" width="5.40" height="53.30" fill="#1b2d55"/>
<rect x="442.20" y="551.30" width="3.00" height="52.30" fill="#3d74c6"/>
<line x1="443.70" y1="538.50" x2="443.70" y2="550.30" stroke="#333" stroke-width="1.3"/>
<line x1="441.00" y1="538.50" x2="446.40" y2="538.50" stroke="#222" stroke-width="1.6"/>
<rect x="441.00" y="550.30" width="5.40" height="11.40" fill="#1e3158"/>
<rect x="442.30" y="551.50" width="2.80" height="10.20" fill="#2d538f"/>
<rect x="472.80" y="540.00" width="5.40" height="63.60" fill="#1b2d55"/>
<rect x="474.00" y="541.00" width="3.00" height="62.60" fill="#3d74c6"/>
<line x1="475.50" y1="532.30" x2="475.50" y2="540.00" stroke="#333" stroke-width="1.3"/>
<line x1="472.80" y1="532.30" x2="478.20" y2="532.30" stroke="#222" stroke-width="1.6"/>
<rect x="472.80" y="540.00" width="5.40" height="9.60" fill="#1e3158"/>
<rect x="474.10" y="541.20" width="2.80" height="8.40" fill="#2d538f"/>
<rect x="504.30" y="545.50" width="5.40" height="58.10" fill="#1b2d55"/>
<rect x="505.50" y="546.50" width="3.00" height="57.10" fill="#3d74c6"/>
<line x1="507.00" y1="535.80" x2="507.00" y2="545.50" stroke="#333" stroke-width="1.3"/>
<line x1="504.30" y1="535.80" x2="509.70" y2="535.80" stroke="#222" stroke-width="1.6"/>
<rect x="504.30" y="545.50" width="5.40" height="11.00" fill="#1e3158"/>
<rect x="505.60" y="546.70" width="2.80" height="9.80" fill="#2d538f"/>
<line x1="518.50" y1="491.00" x2="518.50" y2="648.00" stroke="#c8c8c8" stroke-width="1"/>
<text x="0" y="0" transform="translate(41.3,599.0) rotate(-45)" font-size="11.5" text-anchor="end" font-weight="normal" font-style="normal" fill="#1e1e1e">Ui</text>
<text x="0" y="0" transform="translate(63.9,597.35) rotate(-45)" font-size="11.5" text-anchor="end" font-weight="normal" font-style="normal" fill="#1e1e1e">act</text>
<text x="0" y="0" transform="translate(100.15,597.35) rotate(-45)" font-size="11.5" text-anchor="end" font-weight="normal" font-style="normal" fill="#1e1e1e">act + tBR</text>
<text x="0" y="0" transform="translate(132.95,597.05) rotate(-45)" font-size="11.5" text-anchor="end" font-weight="normal" font-style="normal" fill="#1e1e1e">act + XFD</text>
<text x="0" y="0" transform="translate(168.8,597.65) rotate(-45)" font-size="11.5" text-anchor="end" font-weight="normal" font-style="normal" fill="#1e1e1e">tBR, act</text>
<text x="0" y="0" transform="translate(170.15,614.6) rotate(-45)" font-size="11.5" text-anchor="end" font-weight="normal" font-style="normal" fill="#1e1e1e">+ XFD</text>
<text x="0" y="0" transform="translate(212.8,602.2) rotate(-45)" font-size="11.5" text-anchor="end" font-weight="normal" font-style="normal" fill="#1e1e1e">Ui</text>
<text x="0" y="0" transform="translate(240.1,600.55) rotate(-45)" font-size="11.5" text-anchor="end" font-weight="normal" font-style="normal" fill="#1e1e1e">act</text>
<text x="0" y="0" transform="translate(274.8,600.85) rotate(-45)" font-size="11.5" text-anchor="end" font-weight="normal" font-style="normal" fill="#1e1e1e">act + tBR</text>
<text x="0" y="0" transform="translate(305.1,599.35) rotate(-45)" font-size="11.5" text-anchor="end" font-weight="normal" font-style="normal" fill="#1e1e1e">act + XFD</text>
<text x="0" y="0" transform="translate(332.95,602.15) rotate(-45)" font-size="11.5" text-anchor="end" font-weight="normal" font-style="normal" fill="#1e1e1e">tBR, act</text>
<text x="0" y="0" transform="translate(338.0,616.1) rotate(-45)" font-size="11.5" text-anchor="end" font-weight="normal" font-style="normal" fill="#1e1e1e">+ XFD</text>
<text x="0" y="0" transform="translate(391.0,615.3) rotate(-45)" font-size="11.5" text-anchor="end" font-weight="normal" font-style="normal" fill="#1e1e1e">Ui</text>
<text x="0" y="0" transform="translate(416.8,612.3) rotate(-45)" font-size="11.5" text-anchor="end" font-weight="normal" font-style="normal" fill="#1e1e1e">act</text>
<text x="0" y="0" transform="translate(453.2,611.8) rotate(-45)" font-size="11.5" text-anchor="end" font-weight="normal" font-style="normal" fill="#1e1e1e">act + tBR</text>
<text x="0" y="0" transform="translate(485.0,609.8) rotate(-45)" font-size="11.5" text-anchor="end" font-weight="normal" font-style="normal" fill="#1e1e1e">act + XFD</text>
<text x="0" y="0" transform="translate(513.8,608.35) rotate(-45)" font-size="11.5" text-anchor="end" font-weight="normal" font-style="normal" fill="#1e1e1e">tBR, act</text>
<text x="0" y="0" transform="translate(516.35,624.5) rotate(-45)" font-size="11.5" text-anchor="end" font-weight="normal" font-style="normal" fill="#1e1e1e">+ XFD</text>
<text x="-0.35" y="672.85" font-size="16.5" text-anchor="start" font-weight="bold" font-style="normal" fill="#0a0a0a">C</text>
<text x="170.75" y="682.15" font-size="11.5" text-anchor="start" font-weight="normal" font-style="normal" fill="#1e1e1e">control</text>
<text x="231.2" y="667.25" font-size="11.5" text-anchor="start" font-weight="normal" font-style="normal" fill="#1e1e1e">pCSKA-eFGF</text>
<text x="257.05" y="680.9" font-size="11.5" text-anchor="start" font-weight="normal" font-style="normal" fill="#1e1e1e">in A4</text>
<text x="324.75" y="667.75" font-size="11.5" text-anchor="start" font-weight="normal" font-style="normal" fill="#1e1e1e">pCSKA-eFGF</text>
<text x="343.5" y="681.3" font-size="11.5" text-anchor="start" font-weight="normal" font-style="normal" fill="#1e1e1e">in A1</text>
<defs>
<filter id="b05" x="-20%" y="-20%" width="140%" height="140%"><feGaussianBlur stdDeviation="0.6"/></filter>
<filter id="b1" x="-50%" y="-50%" width="200%" height="200%"><feGaussianBlur stdDeviation="1.2"/></filter>
<filter id="b2" x="-50%" y="-50%" width="200%" height="200%"><feGaussianBlur stdDeviation="2.2"/></filter>
<filter id="b3" x="-50%" y="-50%" width="200%" height="200%"><feGaussianBlur stdDeviation="4"/></filter>
<filter id="b5" x="-50%" y="-50%" width="200%" height="200%"><feGaussianBlur stdDeviation="6"/></filter>
<linearGradient id="bg1" x1="0" y1="0" x2="0" y2="1"><stop offset="0" stop-color="#88cdf2"/><stop offset="1" stop-color="#80c6ee"/></linearGradient>
<linearGradient id="bg2" x1="0" y1="0" x2="1" y2="1"><stop offset="0" stop-color="#58b0de"/><stop offset="0.5" stop-color="#6cbae4"/><stop offset="1" stop-color="#58acd8"/></linearGradient>
<linearGradient id="bg3" x1="0" y1="0" x2="1" y2="0"><stop offset="0" stop-color="#98d0ee"/><stop offset="0.6" stop-color="#b8e0f4"/><stop offset="1" stop-color="#d0ecf8"/></linearGradient>
<linearGradient id="bg4" x1="0" y1="0" x2="0" y2="1"><stop offset="0" stop-color="#62b0e0"/><stop offset="1" stop-color="#7cbfe8"/></linearGradient>
<linearGradient id="bg5" x1="0" y1="0" x2="1" y2="0"><stop offset="0" stop-color="#5a9ec2"/><stop offset="1" stop-color="#4f96bb"/></linearGradient>
<linearGradient id="bg6" x1="0" y1="0" x2="1" y2="0"><stop offset="0" stop-color="#3e90ba"/><stop offset="1" stop-color="#3a8ab4"/></linearGradient>
<linearGradient id="e1" x1="0" y1="0" x2="1" y2="1"><stop offset="0" stop-color="#d2b49e"/><stop offset="0.5" stop-color="#e0cbbd"/><stop offset="1" stop-color="#ead9cf"/></linearGradient>
<linearGradient id="e2" x1="0" y1="0" x2="1" y2="0.6"><stop offset="0" stop-color="#d6b6a4"/><stop offset="0.5" stop-color="#ecdcd4"/><stop offset="1" stop-color="#fffcfa"/></linearGradient>
<linearGradient id="e3" x1="0" y1="0" x2="0.4" y2="1"><stop offset="0" stop-color="#dccbc6"/><stop offset="0.6" stop-color="#eadcd8"/><stop offset="1" stop-color="#e6d6d2"/></linearGradient>
<linearGradient id="e4" x1="0" y1="0" x2="1" y2="1"><stop offset="0" stop-color="#e8cebf"/><stop offset="0.45" stop-color="#f7ece8"/><stop offset="1" stop-color="#fdf8f6"/></linearGradient>
<linearGradient id="e5" x1="0" y1="0" x2="1" y2="1"><stop offset="0" stop-color="#ecd4c6"/><stop offset="0.5" stop-color="#faf2ee"/><stop offset="1" stop-color="#fffcfc"/></linearGradient>
<radialGradient id="e6" cx="0.5" cy="0.55" r="0.55"><stop offset="0" stop-color="#d2bcd6"/><stop offset="0.7" stop-color="#dccadc"/><stop offset="1" stop-color="#f0e4ee"/></radialGradient>
</defs>
<rect x="144.20" y="685.00" width="88.00" height="93.00" fill="url(#bg1)"/>
<rect x="231.80" y="685.00" width="84.60" height="93.00" fill="url(#bg2)"/>
<rect x="316.20" y="684.60" width="84.30" height="93.20" fill="url(#bg3)"/>
<rect x="144.20" y="781.90" width="88.00" height="87.00" fill="url(#bg4)"/>
<rect x="231.80" y="781.90" width="84.30" height="87.00" fill="url(#bg5)"/>
<rect x="316.00" y="781.90" width="84.20" height="87.00" fill="url(#bg6)"/>
<rect x="231.80" y="685.00" width="4.00" height="93.00" fill="#86c4ea" opacity="0.7"/>
<rect x="316.20" y="684.60" width="3.00" height="93.20" fill="#5aa6d8" opacity="0.8"/>
<rect x="231.80" y="781.80" width="4.00" height="87.00" fill="#6cb4e0" opacity="0.7"/>
<defs><clipPath id="c1"><path d="M167,703 C180,701 197,701 209,703.5 C213.5,705 216,707.5 217.5,711 C220,716 221,722 221,728 C221.3,738 221,748 219.5,754 C218,759 214,762 208,763.3 C196,764.5 180,764.5 170,763.3 C165.5,762 162.5,759.5 161,756 C158,750 157,743 157,735 C157,728 158,722 159.5,716 C160.5,711 163,705 167,703 Z"/></clipPath><clipPath id="c2"><path d="M273,703.8 C284,703 296,705 303,710 C309,716 312,726 311.8,737 C311.5,757 296,773.5 276,773.5 C255,773.5 239.5,757 239.5,737 C239.5,725 243,715 249,709.5 C256,705 265,703.5 273,703.8 Z"/></clipPath><clipPath id="c3"><path d="M357.7,692 C376,692 390.7,710 390.7,732 C390.7,754 376,772 357.7,772 C339.5,772 324.7,754 324.7,732 C324.7,710 339.5,692 357.7,692 Z"/></clipPath><clipPath id="c4"><path d="M188,793.5 C196,792.5 205,795 210.5,799.5 C215,805 216.5,813 216.3,821 C216,835 212,848 202,855 C195,859 182,859.5 173,856 C163,851 158.5,840 158.7,828 C159,815 162,803 170,797 C175,793.5 182,793.5 188,793.5 Z"/></clipPath><clipPath id="c5"><path d="M273.5,794.6 C293.3,794.6 309.4,809.8 309.4,828.6 C309.4,847.4 293.3,862.6 273.5,862.6 C253.7,862.6 237.6,847.4 237.6,828.6 C237.6,809.8 253.7,794.6 273.5,794.6 Z"/></clipPath><clipPath id="c6"><path d="M358,789 C366,786 380,788 386,798 C392,808 393,822 391,834 C388,848 378,860 364,862.5 C350,864 334,857 327,846 C321,836 320,822 323,810 C327,797 342,787 352,788 C355,788 357,789 358,789 Z"/></clipPath></defs>
<g filter="url(#b05)"><path d="M167,703 C180,701 197,701 209,703.5 C213.5,705 216,707.5 217.5,711 C220,716 221,722 221,728 C221.3,738 221,748 219.5,754 C218,759 214,762 208,763.3 C196,764.5 180,764.5 170,763.3 C165.5,762 162.5,759.5 161,756 C158,750 157,743 157,735 C157,728 158,722 159.5,716 C160.5,711 163,705 167,703 Z" fill="url(#e1)"/><g clip-path="url(#c1)">
<ellipse cx="166" cy="722" rx="9" ry="18" fill="#c4a088" opacity="0.35" filter="url(#b3)"/>
<ellipse cx="208" cy="745" rx="10" ry="14" fill="#f2e6e0" opacity="0.5" filter="url(#b3)"/>
<ellipse cx="182" cy="721" rx="13" ry="13" fill="#a07890" opacity="0.35" filter="url(#b2)"/>
<path d="M172,713 C176,708 186,708 190,712 C193,716 192,725 187,729 C182,732 175,731 172,727 C169,722 169,716 172,713 Z" fill="#6e3c68" opacity="0.7" filter="url(#b1)"/>
<path d="M175,715 C178,712 184,712 187,715 C189,719 187,725 183,727 C179,728 175,726 174,722 C173,719 173,717 175,715 Z" fill="#4e2248" opacity="0.7" filter="url(#b1)"/>
</g></g>
<g filter="url(#b05)"><path d="M273,703.8 C284,703 296,705 303,710 C309,716 312,726 311.8,737 C311.5,757 296,773.5 276,773.5 C255,773.5 239.5,757 239.5,737 C239.5,725 243,715 249,709.5 C256,705 265,703.5 273,703.8 Z" fill="url(#e2)"/><g clip-path="url(#c2)">
<ellipse cx="256" cy="745" rx="16" ry="28" fill="#d0a898" opacity="0.35" filter="url(#b3)"/>
<ellipse cx="300" cy="745" rx="12" ry="20" fill="#ffffff" opacity="0.7" filter="url(#b3)"/>
<ellipse cx="262" cy="712" rx="26" ry="12" fill="#b8907c" opacity="0.5" filter="url(#b3)"/>
<ellipse cx="274" cy="706" rx="11" ry="3.6" fill="#6a3a2c" opacity="0.65" filter="url(#b1)"/>
<ellipse cx="273.5" cy="703.5" rx="1.5" ry="2" fill="#c8a090" opacity="0.6" filter="url(#b05)"/>
</g></g>
<g filter="url(#b05)"><path d="M357.7,692 C376,692 390.7,710 390.7,732 C390.7,754 376,772 357.7,772 C339.5,772 324.7,754 324.7,732 C324.7,710 339.5,692 357.7,692 Z" fill="url(#e3)"/><g clip-path="url(#c3)">
<path d="M342,706 C348,701 364,700 370,704 C373,712 372,724 366,731 C359,737 348,737 343,731 C339,724 339,713 342,706 Z" fill="#5a3a70" opacity="0.85" filter="url(#b1)"/>
<ellipse cx="355" cy="715" rx="11" ry="10" fill="#42224e" opacity="0.7" filter="url(#b2)"/>
<ellipse cx="360" cy="772" rx="13" ry="3" fill="#6a5050" opacity="0.3" filter="url(#b1)"/>
</g></g>
<g filter="url(#b05)"><path d="M188,793.5 C196,792.5 205,795 210.5,799.5 C215,805 216.5,813 216.3,821 C216,835 212,848 202,855 C195,859 182,859.5 173,856 C163,851 158.5,840 158.7,828 C159,815 162,803 170,797 C175,793.5 182,793.5 188,793.5 Z" fill="url(#e4)"/><g clip-path="url(#c4)">
<ellipse cx="170" cy="812" rx="9" ry="16" fill="#d8b29c" opacity="0.35" filter="url(#b3)"/>
<ellipse cx="186" cy="800" rx="12" ry="7" fill="#d0a890" opacity="0.4" filter="url(#b2)"/>
<ellipse cx="188.3" cy="799" rx="4.2" ry="5" fill="#9a5428" opacity="0.8" filter="url(#b1)"/>
<path d="M180,820 C187,817 196,816 202,817.5 C201,824 198,830 194,832.5 C189,830 184,826 180,820 Z" fill="#7a5aa4" opacity="0.75" filter="url(#b1)"/>
<ellipse cx="195" cy="824" rx="4.5" ry="5" fill="#4e2e82" opacity="0.6" filter="url(#b1)"/>
</g></g>
<g filter="url(#b05)"><path d="M273.5,794.6 C293.3,794.6 309.4,809.8 309.4,828.6 C309.4,847.4 293.3,862.6 273.5,862.6 C253.7,862.6 237.6,847.4 237.6,828.6 C237.6,809.8 253.7,794.6 273.5,794.6 Z" fill="url(#e5)"/><g clip-path="url(#c5)">
<ellipse cx="246" cy="830" rx="8" ry="20" fill="#e2bca8" opacity="0.4" filter="url(#b3)"/>
<ellipse cx="270" cy="800" rx="10" ry="8" fill="#d2a890" opacity="0.45" filter="url(#b2)"/>
<ellipse cx="271" cy="802" rx="4" ry="6.5" fill="#b06a44" opacity="0.7" filter="url(#b1)"/>
<path d="M256.5,820 C263,818.5 274,818.5 280,820.5 C279,827 274,833 268,835.5 C262,833 258,827 256.5,820 Z" fill="#7a5aa6" opacity="0.7" filter="url(#b1)"/>
<path d="M260,821.5 C265,820.5 273,820.5 277,821.5 C276,827 272,832 268,834 C264,831.5 261,827 260,821.5 Z" fill="#46246e" opacity="0.8" filter="url(#b1)"/>
</g></g>
<g filter="url(#b05)"><path d="M358,789 C366,786 380,788 386,798 C392,808 393,822 391,834 C388,848 378,860 364,862.5 C350,864 334,857 327,846 C321,836 320,822 323,810 C327,797 342,787 352,788 C355,788 357,789 358,789 Z" fill="url(#e6)"/><g clip-path="url(#c6)">
<ellipse cx="345" cy="815" rx="18" ry="22" fill="#c4aacc" opacity="0.45" filter="url(#b3)"/>
<ellipse cx="330" cy="830" rx="6" ry="22" fill="#f0e6f0" opacity="0.6" filter="url(#b3)"/>
<ellipse cx="378" cy="850" rx="12" ry="8" fill="#f6eef4" opacity="0.6" filter="url(#b3)"/>
<path d="M348,823 C355,820 365,819 370,821 C367,832 363,842 359,847 C354,841 350,832 348,823 Z" fill="#7a52a0" opacity="0.75" filter="url(#b2)"/>
<ellipse cx="359" cy="836" rx="3.5" ry="8" fill="#6a4290" opacity="0.6" filter="url(#b1)"/>
<path d="M358,790 L360.4,790 L360,806 L358.6,806 Z" fill="#6a2e2e" opacity="0.75" filter="url(#b05)"/>
<circle cx="352.5" cy="795" r="1" fill="#6a4a7a" opacity="0.5"/>
</g></g>
<text x="147.15" y="696.25" font-size="13.5" text-anchor="start" font-weight="bold" font-style="normal" fill="#0a0a14">i</text>
<text x="239.55" y="695.6" font-size="13.5" text-anchor="start" font-weight="bold" font-style="normal" fill="#0a0a14">ii</text>
<text x="317.3" y="695.8" font-size="13.5" text-anchor="start" font-weight="bold" font-style="normal" fill="#0a0a14">iii</text>
<text x="144.75" y="792.8" font-size="13.5" text-anchor="start" font-weight="bold" font-style="normal" fill="#0a0a14">iv</text>
<text x="234.25" y="791.7" font-size="13.5" text-anchor="start" font-weight="bold" font-style="normal" fill="#0a0a14">v</text>
<text x="317.0" y="792.3" font-size="13.5" text-anchor="start" font-weight="bold" font-style="normal" fill="#0a0a14">vi</text>
<text x="149.25" y="775.65" font-size="12" text-anchor="start" font-weight="normal" font-style="italic" fill="#15304a" stroke="#15304a" stroke-width="0.35">Scl</text>
<text x="234.05" y="775.65" font-size="12" text-anchor="start" font-weight="normal" font-style="italic" fill="#15304a" stroke="#15304a" stroke-width="0.35">Scl</text>
<text x="321.0" y="774.9" font-size="12" text-anchor="start" font-weight="normal" font-style="italic" fill="#15304a" stroke="#15304a" stroke-width="0.35">Scl</text>
<text x="147.0" y="864.5" font-size="11" text-anchor="start" font-weight="bold" font-style="italic" fill="#15304a">Fli1</text>
<text x="234.95" y="864.5" font-size="11" text-anchor="start" font-weight="bold" font-style="italic" fill="#15304a">Fli1</text>
<text x="319.4" y="864.05" font-size="11" text-anchor="start" font-weight="bold" font-style="italic" fill="#15304a">Fli1</text>
<text x="286.55" y="775.75" font-size="11" text-anchor="start" font-weight="bold" font-style="normal" fill="#14283c">15/19</text>
<text x="370.35" y="775.75" font-size="11" text-anchor="start" font-weight="bold" font-style="normal" fill="#14283c">12/19</text>
<text x="286.1" y="864.5" font-size="11" text-anchor="start" font-weight="bold" font-style="normal" fill="#14283c">17/19</text>
<text x="370.1" y="865.8" font-size="11" text-anchor="start" font-weight="bold" font-style="normal" fill="#14283c">12/15</text>
</svg></body></html>
